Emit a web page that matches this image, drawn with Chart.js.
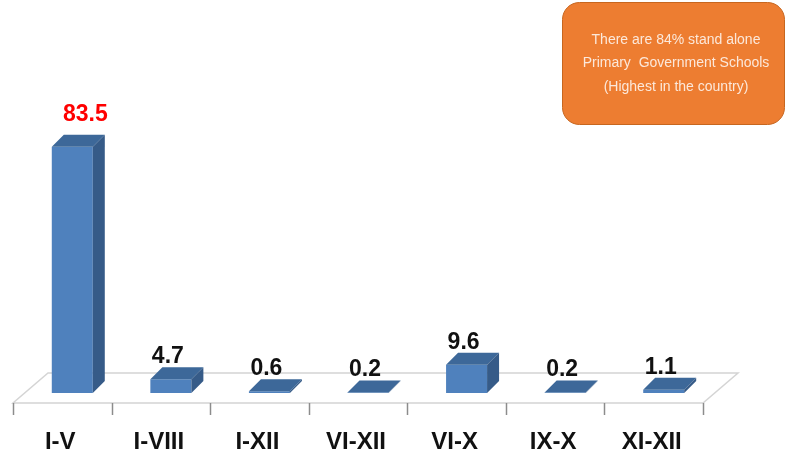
<!DOCTYPE html>
<html>
<head>
<meta charset="utf-8">
<script src="https://cdn.jsdelivr.net/npm/chart.js@4.4.1/dist/chart.umd.min.js"></script>
<style>
  html, body { margin: 0; padding: 0; background: #fff; }
  #chart { display: block; }
</style>
</head>
<body>
<canvas id="chart" width="787" height="458"></canvas>
<script>
// Part des écoles publiques par tranche de classes (%)
const categories = ['I-V', 'I-VIII', 'I-XII', 'VI-XII', 'VI-X', 'IX-X', 'XI-XII'];
const schoolShare = [83.5, 4.7, 0.6, 0.2, 9.6, 0.2, 1.1];
const highlightIndex = 0;   // valeur mise en avant en rouge
const noteLines = [
  'There are 84% stand alone',
  'Primary  Government Schools',
  '(Highest in the country)',
];

const FONT = '"Liberation Sans", Arial, sans-serif';
const DEPTH = 12;            // profondeur 3D des barres
const FLOOR = { front: 10, dx: 35, dy: 30 };  // sol : décalage avant, profondeur

const COLORS = {
  front: '#4F81BD',
  top:   '#3D6899',
  side:  '#365B88',
  floor: '#D4D4D4',
  tick:  '#8C8C8C',
  note:  '#ED7D31',
  noteBorder: '#C7661F',
  noteText: '#FCE8DA',
};

// sol en perspective + graduations sous le bord avant
const floor3d = {
  id: 'floor3d',
  beforeDatasetsDraw(chart) {
    const { ctx, chartArea: a } = chart;
    const fy = a.bottom + FLOOR.front;
    const fx0 = a.left - FLOOR.front, fx1 = a.right - FLOOR.front;
    const by = fy - FLOOR.dy;
    ctx.save();
    ctx.fillStyle = '#fff';
    ctx.strokeStyle = COLORS.floor;
    ctx.lineWidth = 1.5;
    ctx.beginPath();
    ctx.moveTo(fx0, fy);
    ctx.lineTo(fx1, fy);
    ctx.lineTo(fx1 + FLOOR.dx, by);
    ctx.lineTo(fx0 + FLOOR.dx, by);
    ctx.closePath();
    ctx.fill();
    ctx.stroke();

    ctx.strokeStyle = COLORS.tick;
    const step = (a.right - a.left) / categories.length;
    for (let i = 0; i <= categories.length; i++) {
      const tx = Math.round(fx0 + i * step) + 0.5;
      ctx.beginPath();
      ctx.moveTo(tx, fy);
      ctx.lineTo(tx, fy + 12);
      ctx.stroke();
    }
    ctx.restore();
  }
};

// faces supérieure et latérale des barres
const bars3d = {
  id: 'bars3d',
  afterDatasetsDraw(chart) {
    const { ctx } = chart;
    const meta = chart.getDatasetMeta(0);
    ctx.save();
    meta.data.forEach(bar => {
      const l = bar.x - bar.width / 2, r = bar.x + bar.width / 2;
      const t = bar.y, b = bar.base;
      ctx.fillStyle = COLORS.top;
      ctx.beginPath();
      ctx.moveTo(l, t);
      ctx.lineTo(r, t);
      ctx.lineTo(r + DEPTH, t - DEPTH);
      ctx.lineTo(l + DEPTH, t - DEPTH);
      ctx.closePath();
      ctx.fill();
      ctx.fillStyle = COLORS.side;
      ctx.beginPath();
      ctx.moveTo(r, t);
      ctx.lineTo(r + DEPTH, t - DEPTH);
      ctx.lineTo(r + DEPTH, b - DEPTH);
      ctx.lineTo(r, b);
      ctx.closePath();
      ctx.fill();
    });
    ctx.restore();
  }
};

// étiquettes de valeurs au-dessus des barres
const valueLabels = {
  id: 'valueLabels',
  afterDatasetsDraw(chart) {
    const { ctx } = chart;
    const meta = chart.getDatasetMeta(0);
    ctx.save();
    ctx.font = 'bold 23px ' + FONT;
    ctx.textAlign = 'center';
    ctx.textBaseline = 'alphabetic';
    meta.data.forEach((bar, i) => {
      const hi = i === highlightIndex;
      ctx.fillStyle = hi ? '#FF0000' : '#111';
      const x = bar.x + (hi ? 13 : -3);
      const y = bar.y - DEPTH - (hi ? 14 : 4);
      ctx.fillText(schoolShare[i].toFixed(1), x, y);
    });
    ctx.restore();
  }
};

// encadré orange en haut à droite
const noteBox = {
  id: 'noteBox',
  afterDraw(chart) {
    const { ctx } = chart;
    ctx.save();
    ctx.fillStyle = COLORS.note;
    ctx.strokeStyle = COLORS.noteBorder;
    ctx.lineWidth = 1;
    ctx.beginPath();
    ctx.roundRect(562.5, 2.5, 222, 122, 17);
    ctx.fill();
    ctx.stroke();
    ctx.fillStyle = COLORS.noteText;
    ctx.font = '14px ' + FONT;
    ctx.textAlign = 'center';
    ctx.textBaseline = 'middle';
    noteLines.forEach((line, i) => ctx.fillText(line, 676, 40 + i * 23.5));
    ctx.restore();
  }
};

new Chart(document.getElementById('chart').getContext('2d'), {
  type: 'bar',
  data: {
    labels: categories,
    datasets: [{
      data: schoolShare,
      backgroundColor: COLORS.front,
      borderWidth: 0,
      barPercentage: 0.416,
      categoryPercentage: 1,
    }]
  },
  options: {
    responsive: false,
    animation: false,
    layout: { padding: { top: 98, left: 23, right: 74, bottom: 0 } },
    plugins: {
      legend: { display: false },
      tooltip: { enabled: false },
    },
    scales: {
      x: {
        afterFit: (scale) => { scale.height = 65; },
        grid: { display: false, drawTicks: false },
        border: { display: false },
        ticks: {
          labelOffset: -12,
          padding: 35,
          color: '#111',
          font: { family: FONT, size: 24, weight: 'bold' },
          maxRotation: 0,
        }
      },
      y: { display: false, min: 0, max: 100 }
    }
  },
  plugins: [floor3d, bars3d, valueLabels, noteBox]
});
</script>
</body>
</html>
